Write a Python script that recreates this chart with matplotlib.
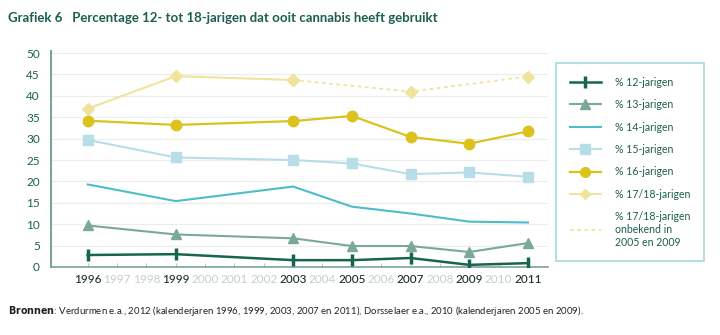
import matplotlib
matplotlib.use("Agg")
import matplotlib.pyplot as plt
from matplotlib.lines import Line2D

plt.rcParams['font.family'] = ['Lato', 'DejaVu Sans']

years = [1996, 1999, 2003, 2005, 2007, 2009, 2011]
p12 = [2.8, 3.0, 1.6, 1.6, 2.1, 0.5, 0.9]
p13 = [9.7, 7.6, 6.7, 4.9, 4.9, 3.5, 5.6]
p14 = [19.3, 15.4, 18.8, 14.1, 12.5, 10.6, 10.4]
p15 = [29.7, 25.6, 25.0, 24.2, 21.7, 22.1, 21.1]
p16 = [34.2, 33.2, 34.1, 35.3, 30.4, 28.8, 31.7]
years_1718 = [1996, 1999, 2003, 2007, 2011]
p1718 = [37.0, 44.6, 43.7, 41.0, 44.5]

all_years = list(range(1996, 2012))
major_years = [1996, 1999, 2003, 2005, 2007, 2009, 2011]
yticks = [0, 5, 10, 15, 20, 25, 30, 35, 40, 45, 50]

title = "Grafiek 6   Percentage 12- tot 18-jarigen dat ooit cannabis heeft gebruikt"
labels = ["% 12-jarigen", "% 13-jarigen", "% 14-jarigen", "% 15-jarigen",
          "% 16-jarigen", "% 17/18-jarigen", "% 17/18-jarigen\nonbekend in\n2005 en 2009"]

c12 = "#17654f"
c13 = "#7aa89b"
c14 = "#4dbdc8"
c15 = "#b7dde8"
c16 = "#dcc21c"
c1718 = "#f1e39c"
dark = "#1d5e50"
axcol = "#7aa59b"

fig = plt.figure(figsize=(7.2, 3.35), dpi=100)
ax = fig.add_axes([0.0708, 0.203, 0.691, 0.645])

ax.plot(years, p12, color=c12, lw=1.8, marker='|', ms=9, mew=2.5, zorder=5)
ax.plot(years, p13, color=c13, lw=1.5, marker='^', ms=7, zorder=5)
ax.plot(years, p14, color=c14, lw=1.5, zorder=5)
ax.plot(years, p15, color=c15, lw=1.5, marker='s', ms=7, zorder=5)
ax.plot(years, p16, color=c16, lw=1.6, marker='o', ms=7.5, zorder=5)
ax.plot(years_1718[:3], p1718[:3], color=c1718, lw=1.5, marker='D', ms=6, zorder=5)
ax.plot(years_1718[2:], p1718[2:], color=c1718, lw=1.3, ls=(0, (2, 2)), marker='D', ms=6, zorder=5)

ax.set_xlim(1994.75, 2011.7)
ax.set_ylim(0, 50.5)
ax.set_yticks(yticks)
ax.set_yticklabels([str(v) for v in yticks], color=dark, fontsize=8.5)
ax.yaxis.grid(True, color="#ececec", lw=0.8)
ax.set_axisbelow(True)
ax.set_xticks(all_years)
ax.set_xticklabels([str(y) for y in all_years], fontsize=8.5)
for lab, y in zip(ax.get_xticklabels(), all_years):
    if y in major_years:
        lab.set_color("#1a2f2a")
        lab.set_fontweight('medium')
    else:
        lab.set_color("#c4cfcc")
ax.tick_params(axis='x', direction='in', length=3, color="#b9c9c4", pad=5)
ax.tick_params(axis='y', length=0, pad=8)
for s in ['top', 'right']:
    ax.spines[s].set_visible(False)
ax.spines['left'].set_color(axcol)
ax.spines['bottom'].set_color(axcol)
ax.spines['left'].set_linewidth(1.5)
ax.spines['bottom'].set_linewidth(1.2)

handles = [
    Line2D([], [], color=c12, lw=1.8, marker='|', ms=8, mew=2.5),
    Line2D([], [], color=c13, lw=1.5, marker='^', ms=6.5),
    Line2D([], [], color=c14, lw=1.5),
    Line2D([], [], color=c15, lw=1.5, marker='s', ms=6.5),
    Line2D([], [], color=c16, lw=1.6, marker='o', ms=7),
    Line2D([], [], color=c1718, lw=1.5, marker='D', ms=5.5),
    Line2D([], [], color=c1718, lw=1.3, ls=(0, (2, 2))),
]
leg = fig.legend(handles, labels, loc='upper left', bbox_to_anchor=(0.772, 0.812),
                 frameon=True, fancybox=False, fontsize=7.6, labelcolor=dark,
                 handlelength=3.0, borderpad=1.3, labelspacing=1.08, handletextpad=1.3,
                 borderaxespad=0)
leg.get_frame().set_edgecolor("#8fcfd0")
leg.get_frame().set_linewidth(1.2)

fig.text(0.011, 0.945, title, fontsize=9.5, fontweight='bold', color=dark, va='center')
fig.text(0.011, 0.072, r"$\bf{Bronnen}$: Verdurmen e.a., 2012 (kalenderjaren 1996, 1999, 2003, 2007 en 2011), Dorsselaer e.a., 2010 (kalenderjaren 2005 en 2009).",
         fontsize=6.9, color="#222222", va='center')

fig.savefig("out.png", dpi=100)
